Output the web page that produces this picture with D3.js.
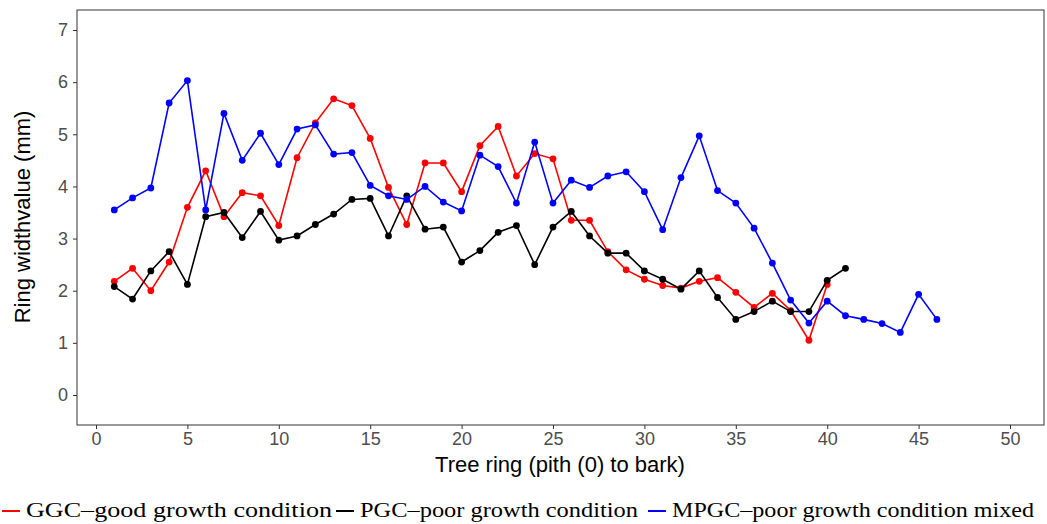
<!DOCTYPE html>
<html><head><meta charset="utf-8">
<script src="https://cdn.jsdelivr.net/npm/d3@7"></script>
<style>body{margin:0;background:#fff}</style>
</head><body>
<script>
var ggc = [2.18,2.43,2.0,2.55,3.6,4.3,3.42,3.88,3.82,3.25,4.55,5.22,5.68,5.55,4.92,3.98,3.27,4.45,4.45,3.9,4.78,5.15,4.2,4.63,4.53,3.35,3.35,2.75,2.4,2.22,2.1,2.05,2.18,2.25,1.97,1.68,1.95,1.62,1.05,2.12];
var pgc = [2.08,1.84,2.38,2.75,2.12,3.42,3.5,3.02,3.52,2.97,3.05,3.27,3.47,3.75,3.77,3.05,3.82,3.18,3.22,2.55,2.77,3.12,3.25,2.5,3.22,3.52,3.05,2.72,2.72,2.38,2.22,2.03,2.38,1.87,1.45,1.6,1.8,1.6,1.6,2.2,2.43];
var mpgc = [3.55,3.78,3.97,5.6,6.03,3.55,5.4,4.5,5.02,4.42,5.1,5.18,4.62,4.65,4.02,3.82,3.75,4.0,3.7,3.53,4.6,4.38,3.68,4.85,3.68,4.12,3.98,4.2,4.28,3.9,3.17,4.17,4.97,3.92,3.68,3.2,2.53,1.82,1.38,1.8,1.52,1.45,1.37,1.2,1.93,1.45];
var xTicks = [0,5,10,15,20,25,30,35,40,45,50];
var yTicks = [0,1,2,3,4,5,6,7];
var series = [
  {name:"GGC\u2013good growth condition", color:"#ff0000", values:ggc},
  {name:"PGC\u2013poor growth condition", color:"#000000", values:pgc},
  {name:"MPGC\u2013poor growth condition mixed", color:"#0000ff", values:mpgc}
];

var svg = d3.select("body").append("svg").attr("width",1047).attr("height",524);
var x = d3.scaleLinear().domain([0,50]).range([96,1010]);
var y = d3.scaleLinear().domain([0,7]).range([395,30]);

svg.append("rect").attr("x",77).attr("y",10).attr("width",967).attr("height",415)
  .attr("fill","none").attr("stroke","#333").attr("stroke-width",1);

var gx = svg.append("g").attr("transform","translate(0,425)")
  .call(d3.axisBottom(x).tickValues(xTicks).tickFormat(d3.format("d")).tickSize(4).tickPadding(3));
var gy = svg.append("g").attr("transform","translate(77,0)")
  .call(d3.axisLeft(y).tickValues(yTicks).tickFormat(d3.format("d")).tickSize(4).tickPadding(5));
[gx,gy].forEach(function(g){
  g.select(".domain").remove();
  g.selectAll("line").attr("stroke","#333");
  g.selectAll("text").attr("fill","#4d4d4d").style("font-family","Arial, 'Liberation Sans', sans-serif").style("font-size","18px");
});

series.forEach(function(s){
  var pts = s.values.map(function(v,i){return [i+1,v];});
  svg.append("path").datum(pts).attr("fill","none").attr("stroke",s.color).attr("stroke-width",1.6)
    .attr("d", d3.line().x(function(d){return x(d[0]);}).y(function(d){return y(d[1]);}));
  svg.selectAll(null).data(pts).enter().append("circle")
    .attr("cx",function(d){return x(d[0]);}).attr("cy",function(d){return y(d[1]);})
    .attr("r",3.4).attr("fill",s.color);
});

svg.append("text").attr("x",560).attr("y",472).attr("text-anchor","middle")
  .style("font-family","Arial, 'Liberation Sans', sans-serif").style("font-size","22px").text("Tree ring (pith (0) to bark)");
svg.append("text").attr("transform","translate(30,217) rotate(-90)").attr("text-anchor","middle")
  .style("font-family","Arial, 'Liberation Sans', sans-serif").style("font-size","22px").text("Ring widthvalue (mm)");

var legX = [2, 336, 648];
var legW = [306, 278, 362];
series.forEach(function(s,i){
  var g = svg.append("g").attr("transform","translate("+legX[i]+",517)");
  g.append("line").attr("x1",0).attr("x2",18).attr("y1",-6).attr("y2",-6).attr("stroke",s.color).attr("stroke-width",2);
  g.append("text").attr("x",24).attr("y",0).attr("textLength",legW[i]).attr("lengthAdjust","spacingAndGlyphs")
    .style("font-family","'Liberation Serif', 'Times New Roman', serif").style("font-size","22px").text(s.name);
});
</script>
</body></html>
